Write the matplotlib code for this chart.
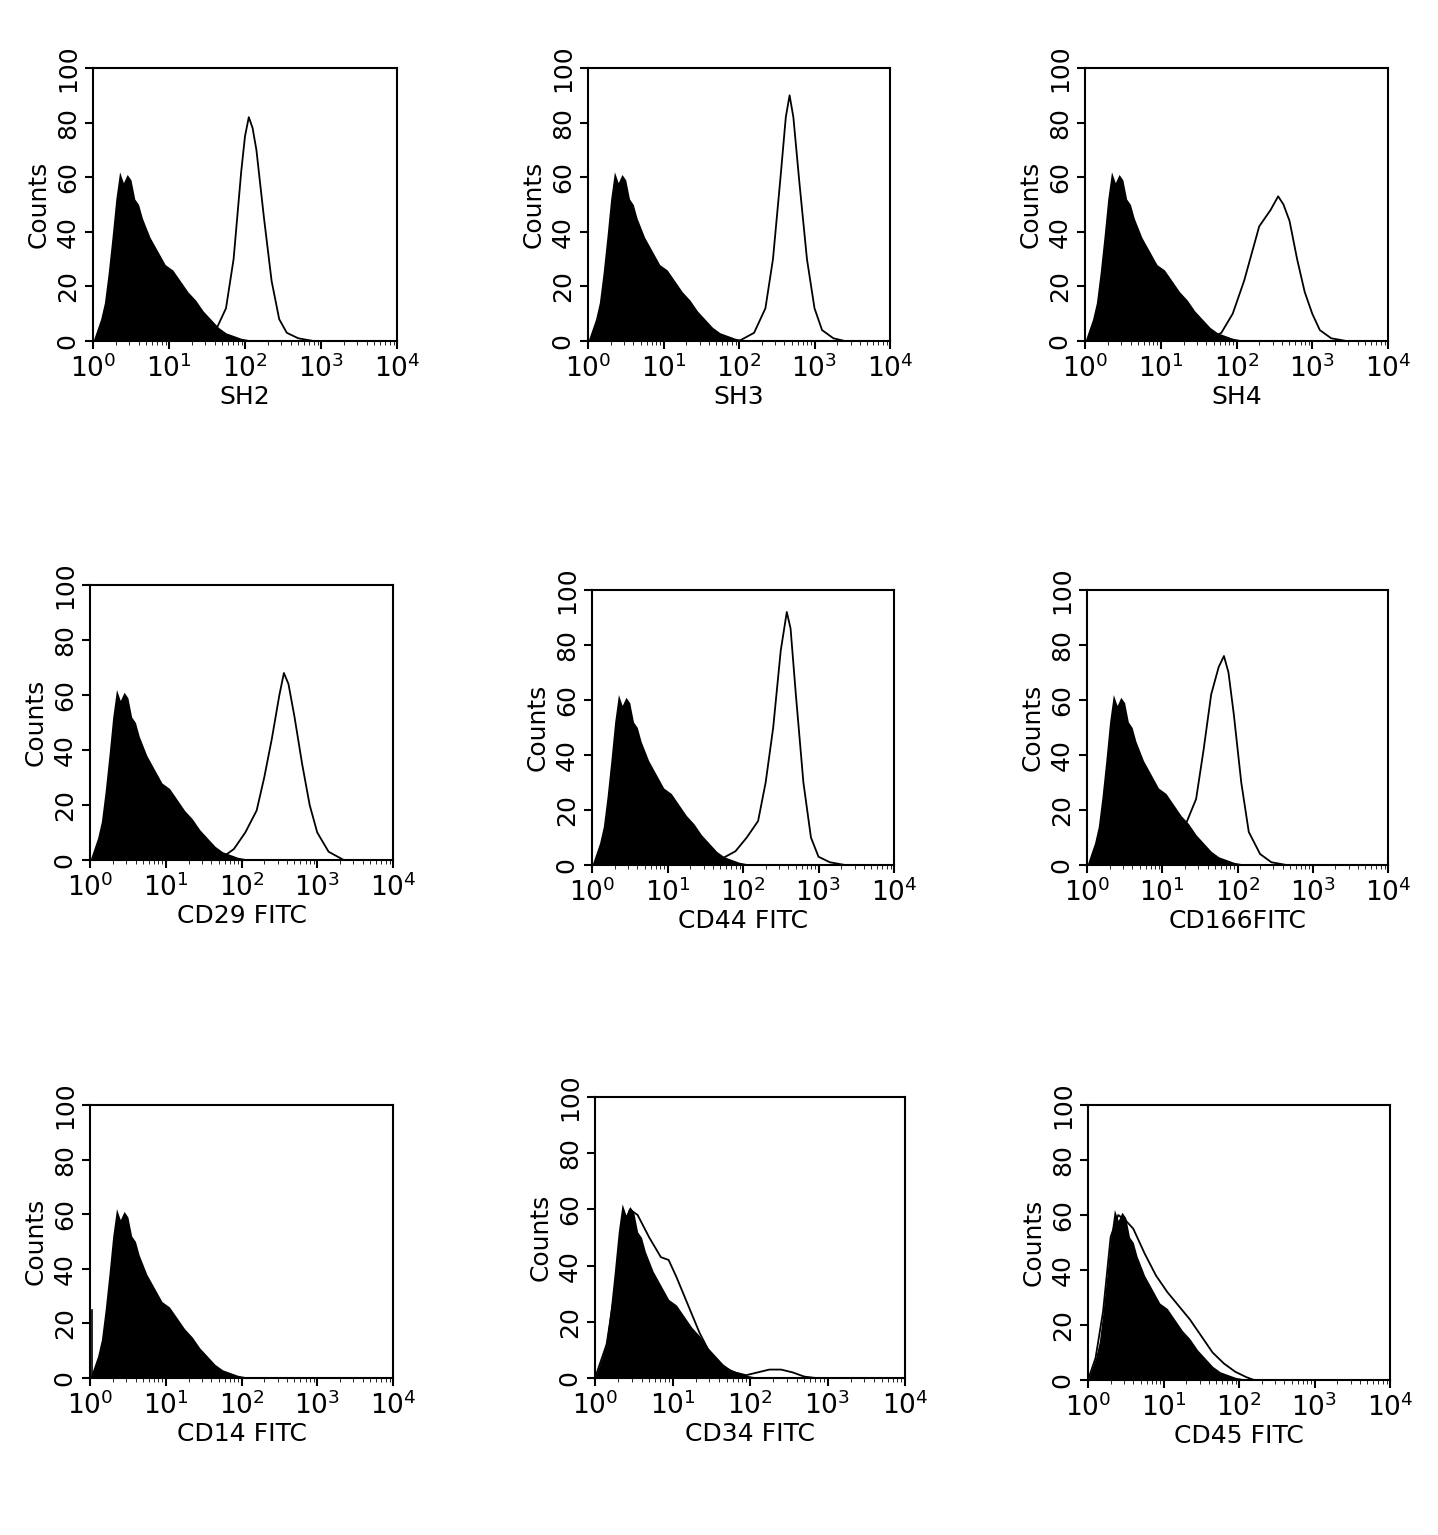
import numpy as np
import matplotlib.pyplot as plt

# control (isotype) histogram, x in decades (log10), y counts
ctrl_x = [0.0, 0.05, 0.1, 0.15, 0.2, 0.25, 0.3, 0.35, 0.4, 0.45, 0.5, 0.55, 0.6, 0.65, 0.75, 0.85, 0.95, 1.05,
          1.15, 1.25, 1.35, 1.45, 1.55, 1.65, 1.75, 1.85, 1.95, 2.05, 2.15]
ctrl_y = [0, 4, 8, 14, 25, 38, 52, 62, 58, 61, 59, 52, 50, 45, 38, 33, 28, 26,
          22, 18, 15, 11, 8, 5, 3, 2, 1, 0.5, 0]

labels = ['SH2', 'SH3', 'SH4', 'CD29 FITC', 'CD44 FITC', 'CD166FITC', 'CD14 FITC', 'CD34 FITC', 'CD45 FITC']

# stained histograms (open curves)
open_x = [
    [1.4, 1.6, 1.75, 1.85, 1.95, 2.0, 2.05, 2.1, 2.15, 2.25, 2.35, 2.45, 2.55, 2.7, 2.9],
    [2.0, 2.2, 2.35, 2.45, 2.55, 2.62, 2.67, 2.72, 2.8, 2.9, 3.0, 3.1, 3.25, 3.4],
    [1.6, 1.8, 1.95, 2.1, 2.2, 2.3, 2.45, 2.55, 2.62, 2.7, 2.8, 2.9, 3.0, 3.1, 3.25, 3.45],
    [1.7, 1.9, 2.05, 2.2, 2.3, 2.4, 2.5, 2.56, 2.62, 2.7, 2.8, 2.9, 3.0, 3.15, 3.35],
    [1.7, 1.9, 2.05, 2.2, 2.3, 2.4, 2.5, 2.58, 2.63, 2.7, 2.8, 2.9, 3.0, 3.15, 3.35],
    [1.1, 1.3, 1.45, 1.55, 1.65, 1.75, 1.82, 1.88, 1.95, 2.05, 2.15, 2.3, 2.45, 2.65],
    [],
    [0.0, 0.05, 0.15, 0.25, 0.35, 0.45, 0.55, 0.7, 0.85, 0.95, 1.05, 1.2, 1.35, 1.5, 1.65, 1.8, 1.95,
     2.1, 2.25, 2.4, 2.55, 2.7, 2.85],
    [0.0, 0.1, 0.2, 0.3, 0.4, 0.5, 0.6, 0.75, 0.9, 1.05, 1.2, 1.35, 1.5, 1.65, 1.8, 1.95, 2.1, 2.2],
]
open_y = [
    [0, 3, 12, 30, 62, 75, 82, 78, 70, 45, 22, 8, 3, 1, 0],
    [0, 3, 12, 30, 60, 82, 90, 82, 58, 30, 12, 4, 1, 0],
    [0, 3, 10, 22, 32, 42, 48, 53, 50, 44, 30, 18, 10, 4, 1, 0],
    [0, 4, 10, 18, 30, 44, 60, 68, 64, 52, 35, 20, 10, 3, 0],
    [2, 5, 10, 16, 30, 50, 78, 92, 86, 62, 30, 10, 3, 1, 0],
    [6, 14, 24, 42, 62, 72, 76, 70, 55, 30, 12, 4, 1, 0],
    [],
    [0, 4, 12, 30, 52, 60, 58, 50, 43, 42, 36, 26, 16, 8, 4, 2, 1, 2, 3, 3, 2, 0.5, 0],
    [0, 8, 25, 52, 60, 58, 55, 46, 38, 32, 27, 22, 16, 10, 6, 3, 1, 0],
]

# axes boxes in pixels: left, top, right, bottom
boxes = [(93, 68, 397, 341), (588, 68, 890, 341), (1085, 68, 1388, 341),
         (90, 585, 393, 860), (592, 590, 894, 865), (1087, 590, 1388, 865),
         (90, 1105, 393, 1378), (595, 1097, 905, 1378), (1088, 1105, 1390, 1380)]

W, H = 1438, 1535
fig = plt.figure(figsize=(W / 100, H / 100), dpi=100)
for i, (l, t, r, b) in enumerate(boxes):
    ax = fig.add_axes([l / W, 1 - b / H, (r - l) / W, (b - t) / H])
    ax.fill_between(ctrl_x, ctrl_y, color='black', lw=0)
    if i == 6:
        ax.plot([0.02, 0.02], [0, 25], color='black', lw=1.2)
    if open_x[i]:
        ax.plot(open_x[i], open_y[i], color='black', lw=1.3)
    ax.set_xlim(0, 4)
    ax.set_ylim(0, 100)
    ax.set_xticks([0, 1, 2, 3, 4])
    ax.set_xticklabels([r'$10^{%d}$' % k for k in range(5)], fontsize=19)
    ax.set_xticks(np.log10([v * 10 ** d for d in range(4) for v in range(2, 10)]), minor=True)
    ax.set_yticks([0, 20, 40, 60, 80, 100])
    ax.set_yticklabels(['0', '20', '40', '60', '80', '100'], rotation=90, va='center', fontsize=18)
    ax.tick_params(which='major', length=6, width=1.5)
    ax.tick_params(which='minor', length=3)
    ax.set_ylabel('Counts', fontsize=18)
    ax.set_xlabel(labels[i], fontsize=18, labelpad=2)
    for s in ax.spines.values():
        s.set_linewidth(1.5)

fig.savefig('out.png', dpi=100)
